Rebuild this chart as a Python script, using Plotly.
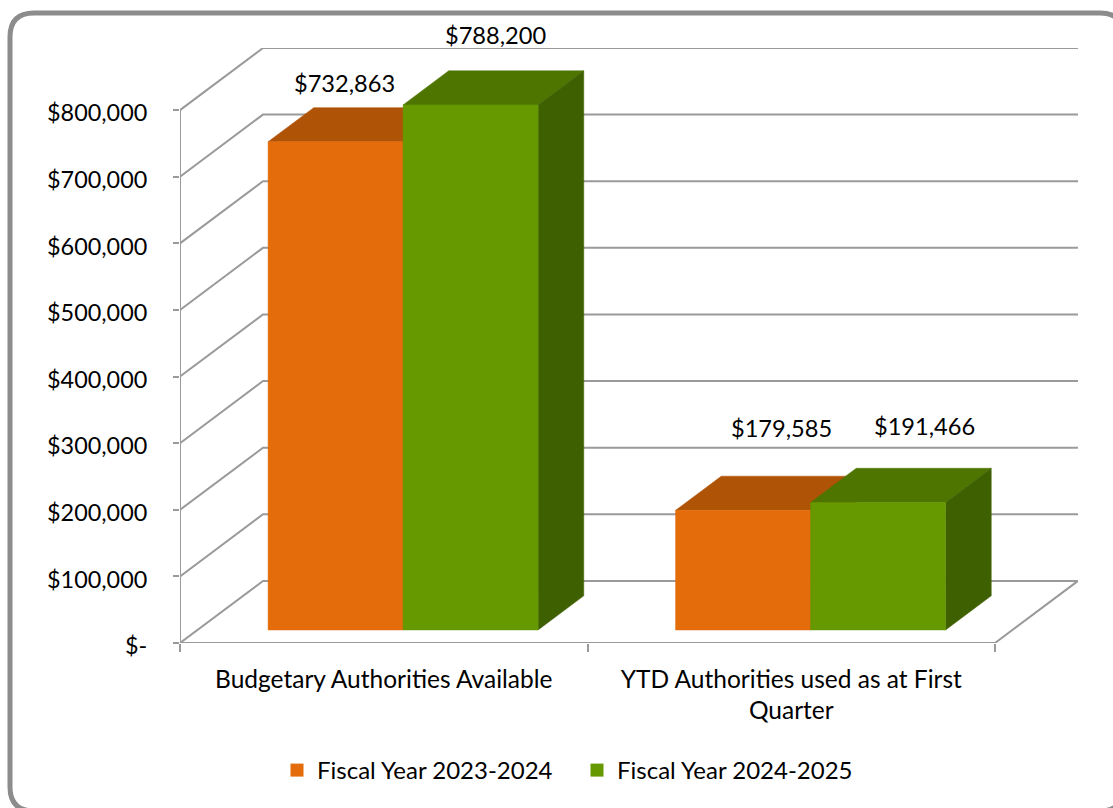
import plotly.graph_objects as go

categories = ["Budgetary Authorities Available", "YTD Authorities used as at First<br>Quarter"]
series_names = ["Fiscal Year 2023-2024", "Fiscal Year 2024-2025"]
fy2324_values = [732863, 179585]
fy2425_values = [788200, 191466]
y_ticks = [0, 100000, 200000, 300000, 400000, 500000, 600000, 700000, 800000]
y_tick_labels = ["$-", "$100,000", "$200,000", "$300,000", "$400,000", "$500,000", "$600,000", "$700,000", "$800,000"]

W, H = 1113, 808
ML, MR, MT, MB = 180, 35, 48, 165
PW, PH = W - ML - MR, H - MT - MB
FONT = "Lato"
GRID = "#9a9a9a"
FRONT = ["#E46C0A", "#669900"]
TOP = ["#AF5307", "#4E7500"]
SIDE = ["#974806", "#3F6000"]

DX = 83 / 407.5        # oblique depth in category units
DY = 93233             # oblique depth in value units
Z0, Z1 = 0.21, 0.76    # bar depth span, share of the floor
BAR_W = 0.3313         # bar width in category units
BAR_SHIFT = 0.0047


def proj(x, y, z):
    return x + z * DX, y + z * DY


def poly(points):
    pts = [proj(*p) for p in points] + [proj(*points[0])]
    return [p[0] for p in pts], [p[1] for p in pts]


fig = go.Figure()


def line(xs, ys, width=2):
    fig.add_trace(go.Scatter(x=xs, y=ys, mode="lines", line=dict(color=GRID, width=width),
                             showlegend=False, hoverinfo="skip", cliponaxis=False))


n = len(categories)
for v in y_ticks:
    line([0, DX, n + DX], [v, v + DY, v + DY])
line([0, n, n + DX], [0, 0, DY])
line([0, 0], [0, y_ticks[-1]])

all_values = [fy2324_values, fy2425_values]
for c in range(n):
    for s, vals in enumerate(all_values):
        x0 = c + 0.5 + BAR_SHIFT - BAR_W + s * BAR_W
        x1 = x0 + BAR_W
        v = vals[c]
        faces = [
            (TOP[s], [(x0, v, Z0), (x1, v, Z0), (x1, v, Z1), (x0, v, Z1)]),
            (SIDE[s], [(x1, 0, Z0), (x1, v, Z0), (x1, v, Z1), (x1, 0, Z1)]),
            (FRONT[s], [(x0, 0, Z0), (x1, 0, Z0), (x1, v, Z0), (x0, v, Z0)]),
        ]
        for color, pts in faces:
            xs, ys = poly(pts)
            fig.add_trace(go.Scatter(x=xs, y=ys, mode="lines", fill="toself", fillcolor=color,
                                     line=dict(color=color, width=0.5), showlegend=False,
                                     hoverinfo="skip", cliponaxis=False))

for s, name in enumerate(series_names):
    fig.add_trace(go.Scatter(x=[None], y=[None], mode="markers", name=name,
                             marker=dict(symbol="square", size=13, color=FRONT[s])))

label_shift = [[(9, 59), (38, 82)], [(25, 70), (46, 76)]]
annotations = []
for s, vals in enumerate(all_values):
    for c, v in enumerate(vals):
        cx = c + 0.5 + BAR_SHIFT - BAR_W / 2 + s * BAR_W
        px, py = proj(cx, v, Z0)
        annotations.append(dict(x=px, y=py, text=f"${v:,}", showarrow=False, xref="x", yref="y",
                                xshift=label_shift[s][c][0], yshift=label_shift[s][c][1],
                                font=dict(family=FONT, size=23.6, color="#000000")))


def px_x(p):
    return (p - ML) / PW


def px_y(p):
    return (H - MB - p) / PH


L, T, R, B, r = 10, 13, 1124, 811, 24
border = (f"M {px_x(L)} {px_y(T + r)} Q {px_x(L)} {px_y(T)} {px_x(L + r)} {px_y(T)} "
          f"L {px_x(R - r)} {px_y(T)} Q {px_x(R)} {px_y(T)} {px_x(R)} {px_y(T + r)} "
          f"L {px_x(R)} {px_y(B - r)} Q {px_x(R)} {px_y(B)} {px_x(R - r)} {px_y(B)} "
          f"L {px_x(L + r)} {px_y(B)} Q {px_x(L)} {px_y(B)} {px_x(L)} {px_y(B - r)} Z")

fig.update_layout(
    width=W, height=H,
    margin=dict(l=ML, r=MR, t=MT, b=MB),
    paper_bgcolor="white", plot_bgcolor="white",
    font=dict(family=FONT, size=23.4, color="#000000"),
    annotations=annotations,
    shapes=[dict(type="path", path=border, xref="paper", yref="paper",
                 line=dict(color="#8c8c8c", width=5), layer="below")],
    legend=dict(orientation="h", x=px_x(277), y=px_y(748), xanchor="left", yanchor="top",
                font=dict(family=FONT, size=24), itemwidth=30, entrywidth=255, entrywidthmode="pixels",
                bgcolor="rgba(0,0,0,0)"),
    xaxis=dict(range=[0, n + DX], tickmode="array", tickvals=[i + 0.5 for i in range(n)],
               ticktext=categories, ticks="", showgrid=False, zeroline=False, showline=False,
               tickangle=0, ticklabelstandoff=19, tickfont=dict(family=FONT, size=24.5),
               minor=dict(tickmode="array", tickvals=list(range(n + 1)), ticks="outside", ticklen=8,
                          tickcolor=GRID, tickwidth=2, showgrid=False)),
    yaxis=dict(range=[0, y_ticks[-1] + DY], tickmode="array", tickvals=y_ticks, ticktext=y_tick_labels,
               ticks="outside", ticklen=6, tickcolor=GRID, tickwidth=2, showgrid=False, zeroline=False,
               showline=False, ticklabelstandoff=21, ticklabelshift=3),
)

fig.write_html("out.html", config=dict(displayModeBar=False),
               post_script="document.body.style.margin='0';document.body.style.overflow='hidden';")
